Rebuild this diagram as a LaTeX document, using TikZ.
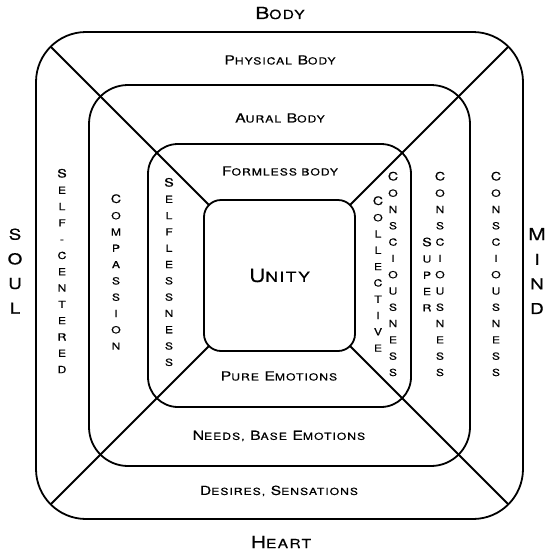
\documentclass[tikz,border=0pt]{standalone}
\usepackage{fontspec}
\setmainfont{TeX Gyre Heros}[FakeStretch=1.25,LetterSpace=10,FakeBold=0.6]
\usetikzlibrary{calc}
\newcommand{\bigsm}{\fontsize{12.5}{14}\selectfont}
\newcommand{\labsm}{\fontsize{9.75}{12}\selectfont}
\newcommand{\initcap}[1]{{\fontsize{11.5}{16.3}\selectfont #1}}
\tikzset{
 shell/.style={draw,line width=1.8pt,rounded corners=#1,inner sep=0,outer sep=0},
 diag/.style={line width=1.8pt},
 title/.style={font=\fontsize{16.7}{18}\selectfont,inner sep=0},
 bandlabel/.style={font=\fontsize{12.5}{14}\selectfont,inner sep=0},
 column/.style={align=center,font=\fontsize{9.75}{16.3}\selectfont,inner sep=0},
 side/.style={align=center,font=\fontsize{15}{24.6}\selectfont,inner sep=0}
}
\begin{document}
\begin{tikzpicture}[x=1pt,y=-1pt]
\useasboundingbox (0,0) rectangle (548,555);
\coordinate (c) at (279.5,275.5);
\node[shell=50pt,minimum size=487pt] (body) at (c) {};
\node[shell=39pt,minimum size=381pt] (aura) at (c) {};
\node[shell=30pt,minimum size=263pt] (formless) at (c) {};
\node[shell=17pt,minimum size=151pt,font=\fontsize{18}{20}\selectfont] (unity) at (c) {U{\fontsize{14}{16}\selectfont NITY}};
\foreach \c/\sx/\sy in {north west/1/1,north east/-1/1,south west/1/-1,south east/-1/-1}
  \draw[diag] ($(body.\c)+(14.6*\sx,14.6*\sy)$) -- ($(unity.\c)+(5*\sx,5*\sy)$);
\node[title] (bodytitle) at (280,13) {B{\bigsm ODY}};
\node[title] (hearttitle) at (281,542) {H{\bigsm EART}};
\node[side] (soul) at (15,271) {S\\O\\U\\L};
\node[side] (mind) at (537,271) {{\fontsize{16.7}{24.6}\selectfont M}\\I\\N\\D};
\node[bandlabel] (physical) at (280,60) {P{\labsm HYSICAL} B{\labsm ODY}};
\node[bandlabel] (aural) at (280,118) {A{\labsm URAL} B{\labsm ODY}};
\node[bandlabel] (formlesslbl) at (280,171) {F{\labsm ORMLESS BODY}};
\node[bandlabel] (pure) at (279,376) {P{\labsm URE} E{\labsm MOTIONS}};
\node[bandlabel] (needs) at (279,436) {N{\labsm EEDS,} B{\labsm ASE} E{\labsm MOTIONS}};
\node[bandlabel] (desires) at (279,491) {D{\labsm ESIRES,} S{\labsm ENSATIONS}};
\node[column] (selfcentered) at (62,271) {\initcap{S}\\E\\L\\F\\-\\C\\E\\N\\T\\E\\R\\E\\D};
\node[column] (compassion) at (116,272) {\initcap{C}\\O\\M\\P\\A\\S\\S\\I\\O\\N};
\node[column] (selflessness) at (169,272) {\initcap{S}\\E\\L\\F\\L\\E\\S\\S\\N\\E\\S\\S};
\node[column] (collective) at (378,274) {\initcap{C}\\O\\L\\L\\E\\C\\T\\I\\V\\E};
\node[column] (collconsc) at (393,274) {\initcap{C}\\O\\N\\S\\C\\I\\O\\U\\S\\N\\E\\S\\S};
\node[column] (super) at (427,274.5) {\initcap{S}\\U\\P\\E\\R};
\node[column] (superconsc) at (440,274) {\initcap{C}\\O\\N\\S\\C\\I\\O\\U\\S\\N\\E\\S\\S};
\node[column] (consc) at (496,274) {\initcap{C}\\O\\N\\S\\C\\I\\O\\U\\S\\N\\E\\S\\S};
\end{tikzpicture}
\end{document}
